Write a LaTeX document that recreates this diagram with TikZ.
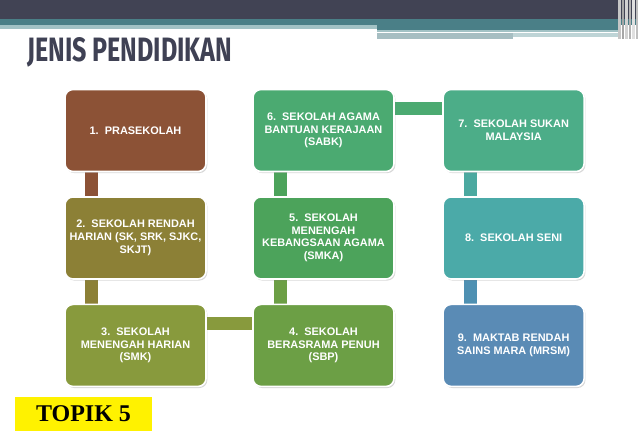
\documentclass[tikz,border=0pt]{standalone}
\usepackage{fontspec}
\usepackage{tikz}
\usetikzlibrary{positioning,shadows,backgrounds}
\setmainfont{Liberation Sans}
\newfontfamily\titlefont{Fira Sans}
\newfontfamily\topikfont{Liberation Serif}
\definecolor{headDark}{HTML}{414354}
\definecolor{headTeal}{HTML}{4A7F87}
\definecolor{headLight}{HTML}{A2C2C5}
\definecolor{headGray}{HTML}{A6BEC2}
\definecolor{titleColor}{HTML}{3F4154}
\definecolor{boxA}{HTML}{8C5236}
\definecolor{boxB}{HTML}{8C8036}
\definecolor{boxC}{HTML}{889A3D}
\definecolor{boxD}{HTML}{6C9F45}
\definecolor{boxE}{HTML}{4CA35B}
\definecolor{boxF}{HTML}{4BAA71}
\definecolor{boxG}{HTML}{4CAD88}
\definecolor{boxH}{HTML}{4BAAA8}
\definecolor{boxI}{HTML}{5A8BB5}
\definecolor{barH}{HTML}{4BA9A0}
\definecolor{barI}{HTML}{4E90B2}
\tikzstyle{schoolbox}=[rectangle, rounded corners=6pt, minimum width=105.75pt, minimum height=61.5pt, inner xsep=1pt, align=center, draw=white, line width=1.2pt, text=white, font=\bfseries\fontsize{8.2}{9.5}\selectfont, drop shadow={opacity=0.3, shadow xshift=1pt, shadow yshift=-1.2pt}]
\tikzstyle{bar}=[line width=9.75pt]
\begin{document}
\begin{tikzpicture}[x=0.75pt, y=-0.75pt, node distance=80.6pt]
	\useasboundingbox (0,0) rectangle (638,442);
	% header bands
	\fill[headDark] (0,0) rectangle (638,19);
	\fill[headTeal] (0,19) rectangle (638,25);
	\fill[headLight] (0,25) rectangle (377,29);
	\fill[headTeal] (377,25) rectangle (620,30);
	\fill[headLight] (377,30) rectangle (620,32);
	\fill[headGray] (377,33) rectangle (513,39);
	\fill[headLight!70!white] (513,33) rectangle (620,37);
	\foreach \sx/\sw/\sc in {618/3/gray!45, 622/2/gray!70, 625/3/gray!35, 629/2/gray!60, 632/3/gray!25, 636/2/gray!50}
		\fill[\sc] (\sx,0) rectangle (\sx+\sw,39);
	
	\node (title) [anchor=south west, inner sep=0pt, text=titleColor] at (27,67) {\resizebox{153.75pt}{18pt}{\titlefont\bfseries JENIS PENDIDIKAN}};
	
	\node (prasekolah) [schoolbox, fill=boxA] at (135.5,130.5) {1.\ \ PRASEKOLAH};
	\node (sekolah rendah) [schoolbox, fill=boxB, below of=prasekolah] {2.\ \ SEKOLAH RENDAH\\HARIAN (SK, SRK, SJKC,\\SKJT)};
	\node (sekolah menengah) [schoolbox, fill=boxC, below of=sekolah rendah] {3.\ \ SEKOLAH\\MENENGAH HARIAN\\(SMK)};
	
	\node (sbp) [schoolbox, fill=boxD, right of=sekolah menengah, xshift=60.4pt] {4.\ \ SEKOLAH\\BERASRAMA PENUH\\(SBP)};
	\node (smka) [schoolbox, fill=boxE, above of=sbp] {5.\ \ SEKOLAH\\MENENGAH\\KEBANGSAAN AGAMA\\(SMKA)};
	\node (sabk) [schoolbox, fill=boxF, above of=smka] {6.\ \ SEKOLAH AGAMA\\BANTUAN KERAJAAN\\(SABK)};
	
	\node (sukan) [schoolbox, fill=boxG, right of=sabk, xshift=62pt] {7.\ \ SEKOLAH SUKAN\\MALAYSIA};
	\node (seni) [schoolbox, fill=boxH, below of=sukan] {8.\ \ SEKOLAH SENI};
	\node (mrsm) [schoolbox, fill=boxI, below of=seni] {9.\ \ MAKTAB RENDAH\\SAINS MARA (MRSM)};
	
	\node (topik) [fill=yellow, minimum width=102.75pt, minimum height=25.5pt, font=\topikfont\bfseries\fontsize{18}{20}\selectfont] at (83.5,414) {TOPIK 5};
	
	\begin{scope}[on background layer]
		\fill[white] (0,0) rectangle (638,442);
		\draw [bar, boxA] ([xshift=20.6pt]prasekolah.south west) -- ([xshift=20.6pt]prasekolah.south west |- sekolah rendah.north);
		\draw [bar, boxB] ([xshift=20.6pt]sekolah rendah.south west) -- ([xshift=20.6pt]sekolah rendah.south west |- sekolah menengah.north);
		\draw [bar, boxC] ([yshift=-14.6pt]sekolah menengah.north east) -- ([yshift=-14.6pt]sekolah menengah.north east -| sbp.west);
		\draw [bar, boxD] ([xshift=21pt]sbp.north west) -- ([xshift=21pt]sbp.north west |- smka.south);
		\draw [bar, boxE] ([xshift=21pt]smka.north west) -- ([xshift=21pt]smka.north west |- sabk.south);
		\draw [bar, boxF] ([yshift=-15pt]sabk.north east) -- ([yshift=-15pt]sabk.north east -| sukan.west);
		\draw [bar, barH] ([xshift=21pt]sukan.south west) -- ([xshift=21pt]sukan.south west |- seni.north);
		\draw [bar, barI] ([xshift=21pt]seni.south west) -- ([xshift=21pt]seni.south west |- mrsm.north);
	\end{scope}
\end{tikzpicture}
\end{document}
